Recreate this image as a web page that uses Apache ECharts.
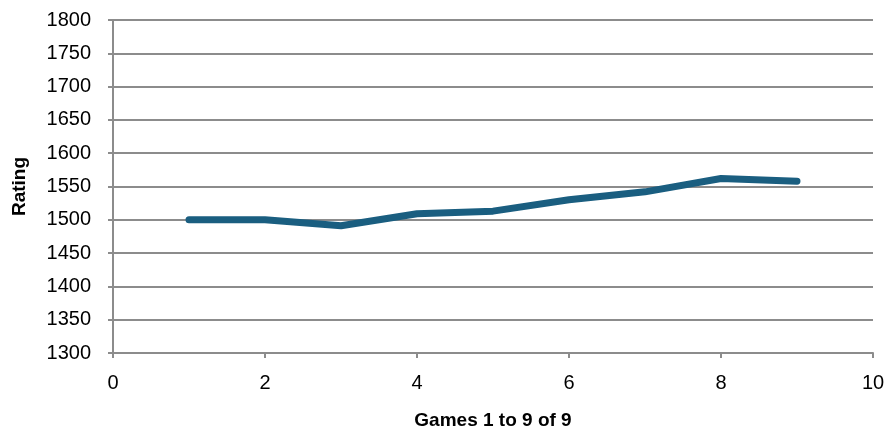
<!DOCTYPE html>
<html>
<head>
<meta charset="utf-8">
<script src="https://cdn.jsdelivr.net/npm/echarts@6/dist/echarts.min.js"></script>
<style>
html,body{margin:0;padding:0;background:#fff;}
#chart{width:887px;height:434px;}
</style>
</head>
<body>
<div id="chart"></div>
<script>
const games = [1, 2, 3, 4, 5, 6, 7, 8, 9];
const ratings = [1500, 1500, 1491, 1509, 1513, 1530, 1542, 1562, 1558];
const xTitle = 'Games 1 to 9 of 9';
const yTitle = 'Rating';

const chart = echarts.init(document.getElementById('chart'), null, {renderer: 'canvas'});
const axisColor = '#8c8c8c';
const labelFont = {color: '#000', fontFamily: 'Liberation Sans', fontSize: 20, formatter: v => String(v)};
chart.setOption({
  animation: false,
  backgroundColor: '#fff',
  grid: {left: 113, right: 14, top: 20, bottom: 81, containLabel: false, outerBoundsMode: 'none'},
  xAxis: {
    type: 'value', min: 0, max: 10, interval: 2,
    name: xTitle, nameLocation: 'middle', nameGap: 58,
    nameTextStyle: {color: '#000', fontFamily: 'Liberation Sans', fontWeight: 'bold', fontSize: 19},
    axisLine: {show: true, onZero: false, lineStyle: {color: axisColor, width: 2}},
    axisTick: {show: true, length: 5, lineStyle: {color: axisColor, width: 2}},
    axisLabel: Object.assign({margin: 20}, labelFont),
    splitLine: {show: false}
  },
  yAxis: {
    type: 'value', min: 1300, max: 1800, interval: 50,
    name: yTitle, nameLocation: 'middle', nameGap: 84,
    nameTextStyle: {color: '#000', fontFamily: 'Liberation Sans', fontWeight: 'bold', fontSize: 19},
    axisLine: {show: true, lineStyle: {color: axisColor, width: 2}},
    axisTick: {show: true, length: 5, lineStyle: {color: axisColor, width: 2}},
    axisLabel: Object.assign({margin: 22}, labelFont),
    splitLine: {show: true, lineStyle: {color: axisColor, width: 2}}
  },
  series: [{
    type: 'line',
    data: games.map((g, i) => [g, ratings[i]]),
    showSymbol: false,
    symbol: 'none',
    lineStyle: {color: '#1a5e80', width: 7, cap: 'round', join: 'round'},
    itemStyle: {color: '#1a5e80'}
  }]
});
</script>
</body>
</html>
